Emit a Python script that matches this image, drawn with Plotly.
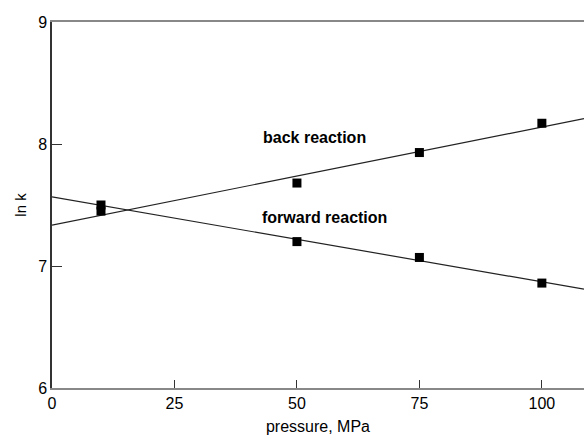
import numpy as np
import plotly.graph_objects as go

pressure = [10, 50, 75, 100]
back_lnk = [7.45, 7.68, 7.93, 8.17]
forward_lnk = [7.50, 7.20, 7.07, 6.86]
x_ticks = [0, 25, 50, 75, 100]
y_ticks = [6, 7, 8, 9]
x_max = 108.6

fig = go.Figure()

xs = np.array([0, x_max])
for ys in (back_lnk, forward_lnk):
    m, b = np.polyfit(pressure, ys, 1)
    fig.add_trace(go.Scatter(x=xs, y=m * xs + b, mode="lines",
                             line=dict(color="#222222", width=1.2),
                             showlegend=False, hoverinfo="skip"))
    fig.add_trace(go.Scatter(x=pressure, y=ys, mode="markers",
                             marker=dict(symbol="square", size=9, color="black"),
                             showlegend=False))

fig.add_annotation(x=53.5, y=8.05, text="<b>back reaction</b>", showarrow=False,
                   font=dict(size=16, color="black", family="Liberation Sans, Arial"))
fig.add_annotation(x=55.7, y=7.40, text="<b>forward reaction</b>", showarrow=False,
                   font=dict(size=16, color="black", family="Liberation Sans, Arial"))

fig.update_layout(
    width=584, height=442,
    margin=dict(l=52, r=0, t=22, b=54),
    plot_bgcolor="white", paper_bgcolor="white",
    font=dict(family="Liberation Sans, Arial", size=16, color="black"),
)
fig.update_xaxes(range=[0, x_max], tickvals=x_ticks, ticks="inside", ticklen=8,
                 tickcolor="#333333", showgrid=False, zeroline=False,
                 showline=True, linecolor="#888888", linewidth=1.5, mirror=True,
                 title=dict(text="pressure, MPa", font=dict(size=16), standoff=10))
fig.update_yaxes(range=[6, 9], tickvals=y_ticks, ticks="inside", ticklen=10,
                 tickcolor="#333333", showgrid=False, zeroline=False,
                 showline=True, linecolor="#333333", linewidth=1.5,
                 title=dict(text="ln k", font=dict(size=15), standoff=8))

fig.write_html("out.html")
